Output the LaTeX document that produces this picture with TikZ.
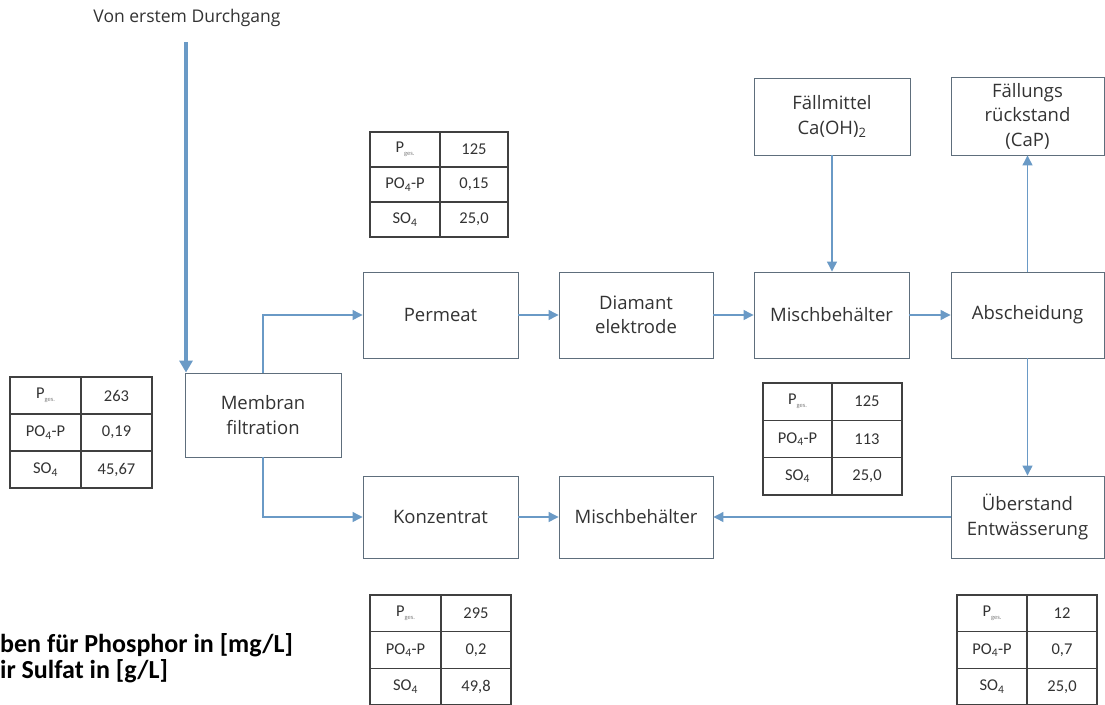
\documentclass[tikz,border=0pt]{standalone}
\usepackage{fontspec}
\setmainfont{Open Sans}
\newfontfamily\calib{Carlito}
\usetikzlibrary{arrows.meta}
\definecolor{boxc}{HTML}{5E6E7C}
\definecolor{arr}{HTML}{6A9AC6}
\definecolor{txt}{HTML}{333333}
\definecolor{tabc}{HTML}{404040}
\tikzset{
  pbox/.style={draw=boxc, line width=0.9pt, minimum width=155pt, minimum height=85pt,
    align=center, font=\fontsize{18.5}{24.5}\selectfont, text=txt, inner sep=0pt},
  flow/.style={draw=arr, line width=1.2pt, -{Triangle[length=10pt,width=10pt]}},
  thickflow/.style={draw=arr, line width=3.4pt, -{Triangle[length=12pt,width=13pt]}},
  tabline/.style={draw=tabc, line width=1.4pt},
  tabtxt/.style={font=\calib\fontsize{16.5}{18}\selectfont, text=txt, inner sep=0pt},
  note/.style={font=\calib\bfseries\fontsize{26}{30}\selectfont, text=black, inner sep=0pt, anchor=base west}
}
\newcommand\pges{P\raisebox{-3pt}{\fontsize{6.5}{6.5}\selectfont\color{gray}ges.}}
\newcommand\pop{PO\textsubscript{4}-P}
\newcommand\sof{SO\textsubscript{4}}
% name, x0, xm, x1, y0, rowheight, v1, v2, v3
\newcommand\ptab[9]{%
  \draw[tabline] (#2,#5) rectangle (#4,#5+3*#6);
  \draw[tabline] (#3,#5) -- (#3,#5+3*#6);
  \draw[tabline] (#2,#5+#6) -- (#4,#5+#6);
  \draw[tabline] (#2,#5+2*#6) -- (#4,#5+2*#6);
  \node[tabtxt] (#1a) at ({(#2+#3)/2},#5+0.5*#6) {\pges};
  \node[tabtxt] (#1b) at ({(#3+#4)/2},#5+0.5*#6) {#7};
  \node[tabtxt] (#1c) at ({(#2+#3)/2},#5+1.5*#6) {\pop};
  \node[tabtxt] (#1d) at ({(#3+#4)/2},#5+1.5*#6) {#8};
  \node[tabtxt] (#1e) at ({(#2+#3)/2},#5+2.5*#6) {\sof};
  \node[tabtxt] (#1f) at ({(#3+#4)/2},#5+2.5*#6) {#9};
}
\begin{document}
\begin{tikzpicture}[x=1pt,y=-1pt]
\fill[white] (0,0) rectangle (1105,704);
\useasboundingbox (0,0) rectangle (1105,704);

% boxes
\node[pbox, minimum width=156pt, minimum height=84pt] (mem) at (263,415) {Membran\\filtration};
\node[pbox, minimum height=86pt] (perm) at (440.5,315) {Permeat};
\node[pbox, minimum width=154pt, minimum height=86pt] (diam) at (636,315) {Diamant\\elektrode};
\node[pbox, minimum height=86pt] (mix1) at (831.5,315) {Mischbehälter};
\node[pbox, minimum width=153pt, minimum height=86pt] (absch) at (1027.5,315) {Abscheidung};
\node[pbox, minimum width=156pt, minimum height=77pt] (fm) at (832,116.5) {Fällmittel\\Ca(OH)\textsubscript{2}};
\node[pbox, minimum width=153pt, minimum height=78pt] (fr) at (1027.5,116) {Fällungs\\rückstand\\(CaP)};
\node[pbox, minimum width=153pt, minimum height=82pt] (ueb) at (1027.5,517) {Überstand\\Entwässerung};
\node[pbox, minimum width=154pt, minimum height=82pt] (mix2) at (636,517) {Mischbehälter};
\node[pbox, minimum height=82pt] (konz) at (440.5,517) {Konzentrat};

% source
\node[font=\fontsize{17.5}{20}\selectfont, text=txt, inner sep=0pt] (von) at (187,18) {Von erstem Durchgang};
\coordinate (src) at (186,42);
\draw[thickflow] (src) -- (src |- mem.north);

% connectors
\draw[flow] (mem.north) |- (perm.west);
\draw[flow] (mem.south) |- (konz.west);
\draw[flow] (perm) -- (diam);
\draw[flow] (diam) -- (mix1);
\draw[flow] (mix1) -- (absch);
\draw[flow] (fm.south) -- (fm.south |- mix1.north);
\draw[flow] (absch.north) -- (fr.south);
\draw[flow] (absch.south) -- (ueb.north);
\draw[flow] (ueb.west) -- (mix2.east);
\draw[flow] (konz) -- (mix2);

% tables
\ptab{t1}{10}{81}{152}{377}{37}{263}{0,19}{45,67}
\ptab{t2}{370}{440}{508}{132}{35}{125}{0,15}{25,0}
\ptab{t3}{763}{832}{902}{383}{37.3}{125}{113}{25,0}
\ptab{t4}{370}{441}{511}{595}{36.7}{295}{0,2}{49,8}
\ptab{t5}{957}{1027}{1097}{595}{36.7}{12}{0,7}{25,0}

% note
\node[note] (n1) at (0,652) {ben für Phosphor in [mg/L]};
\node[note] (n2) at (0,678) {ir Sulfat in [g/L]};
\end{tikzpicture}
\end{document}
